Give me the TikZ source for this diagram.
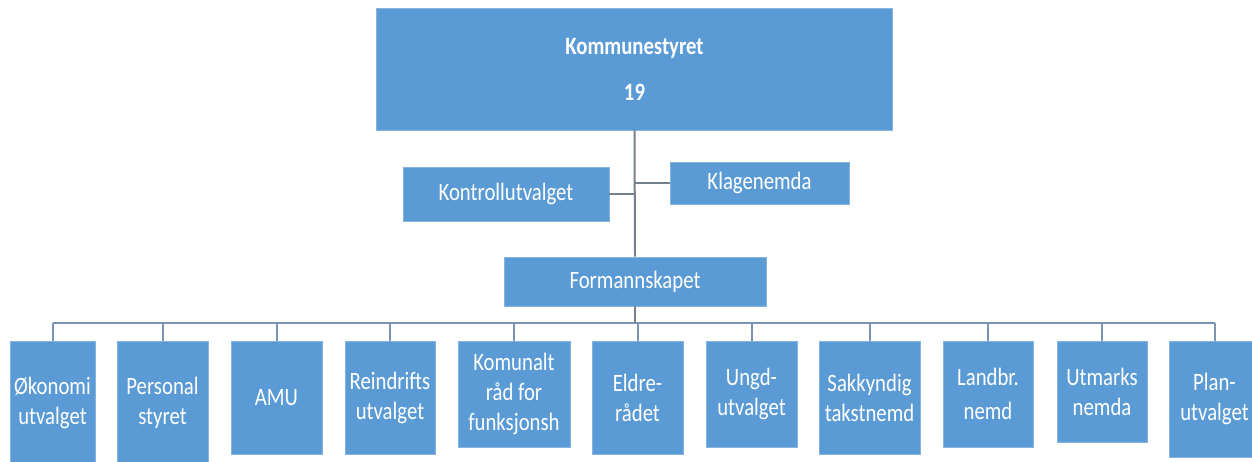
\documentclass[tikz,border=0pt]{standalone}
\usepackage{fontspec}
\setmainfont{Carlito}[FakeStretch=0.83]
\usepackage{tikz}
\usetikzlibrary{positioning}

\definecolor{boxblue}{RGB}{91,155,213}
\definecolor{linegray}{RGB}{118,128,140}
\definecolor{busblue}{RGB}{122,146,180}

\tikzset{
  unit/.style={rectangle, fill=boxblue, draw=boxblue!75!white, line width=0.8pt,
    text=white, align=center, inner sep=0pt,
    font=\fontsize{25}{30}\selectfont},
  link/.style={draw=linegray, line width=2pt},
  bus/.style={draw=busblue, line width=2pt}
}

\begin{document}
\begin{tikzpicture}[x=1pt,y=-1pt]
  \useasboundingbox (0,0) rectangle (1252,462);
  \node[unit, minimum width=516pt, minimum height=122pt] (ks) at (634.5,69)
    {\bfseries Kommunestyret\\[16pt]\bfseries 19};
  \node[unit, minimum width=206pt, minimum height=54pt] (kontroll) at (506,194) {Kontrollutvalget};
  \node[unit, minimum width=179pt, minimum height=42pt] (klage) at (759.5,183) {Klagenemda};
  \node[unit, minimum width=262pt, minimum height=49pt] (form) at (635,281.5) {Formannskapet};
  \draw[link] (ks.south) -- (form.north);
  \draw[link] (kontroll.east) -- (kontroll.east -| ks.south);
  \draw[link] (klage.west) -- (klage.west -| ks.south);
  \coordinate (busL) at (52.5,323);
  \coordinate (busR) at (1214.5,323);
  \draw[bus] (busL) -- (busR);
  \draw[link] (form.south) -- (form.south |- busL);
    \foreach \n/\x/\w/\b/\t in {
      okonomi/52.5/85/465/{Økonomi\\utvalget},
      personal/162.5/91/465/{Personal\\styret},
      amu/276.5/91/454/{AMU},
      reindrift/390/90/454/{Reindrifts\\utvalget},
      komunalt/514/112/447/{Komunalt\\råd for\\funksjonsh},
      eldre/637.5/91/454/{Eldre-\\rådet},
      ungd/751.5/91/447/{Ungd-\\utvalget},
      sakkyndig/869.5/101/454/{Sakkyndig\\takstnemd},
      landbr/988/90/447/{Landbr.\\[4pt]nemd},
      utmark/1102/90/442/{Utmarks\\nemda},
      plan/1214.5/91/457/{Plan-\\utvalget}}{
      \node[unit, minimum width=\w pt, minimum height={(\b-341)*1pt}] (\n) at (\x,{(341+\b)/2}) {\t};
      \draw[bus] (\n.north) -- (\n.north |- busL);
    }
\end{tikzpicture}
\end{document}
